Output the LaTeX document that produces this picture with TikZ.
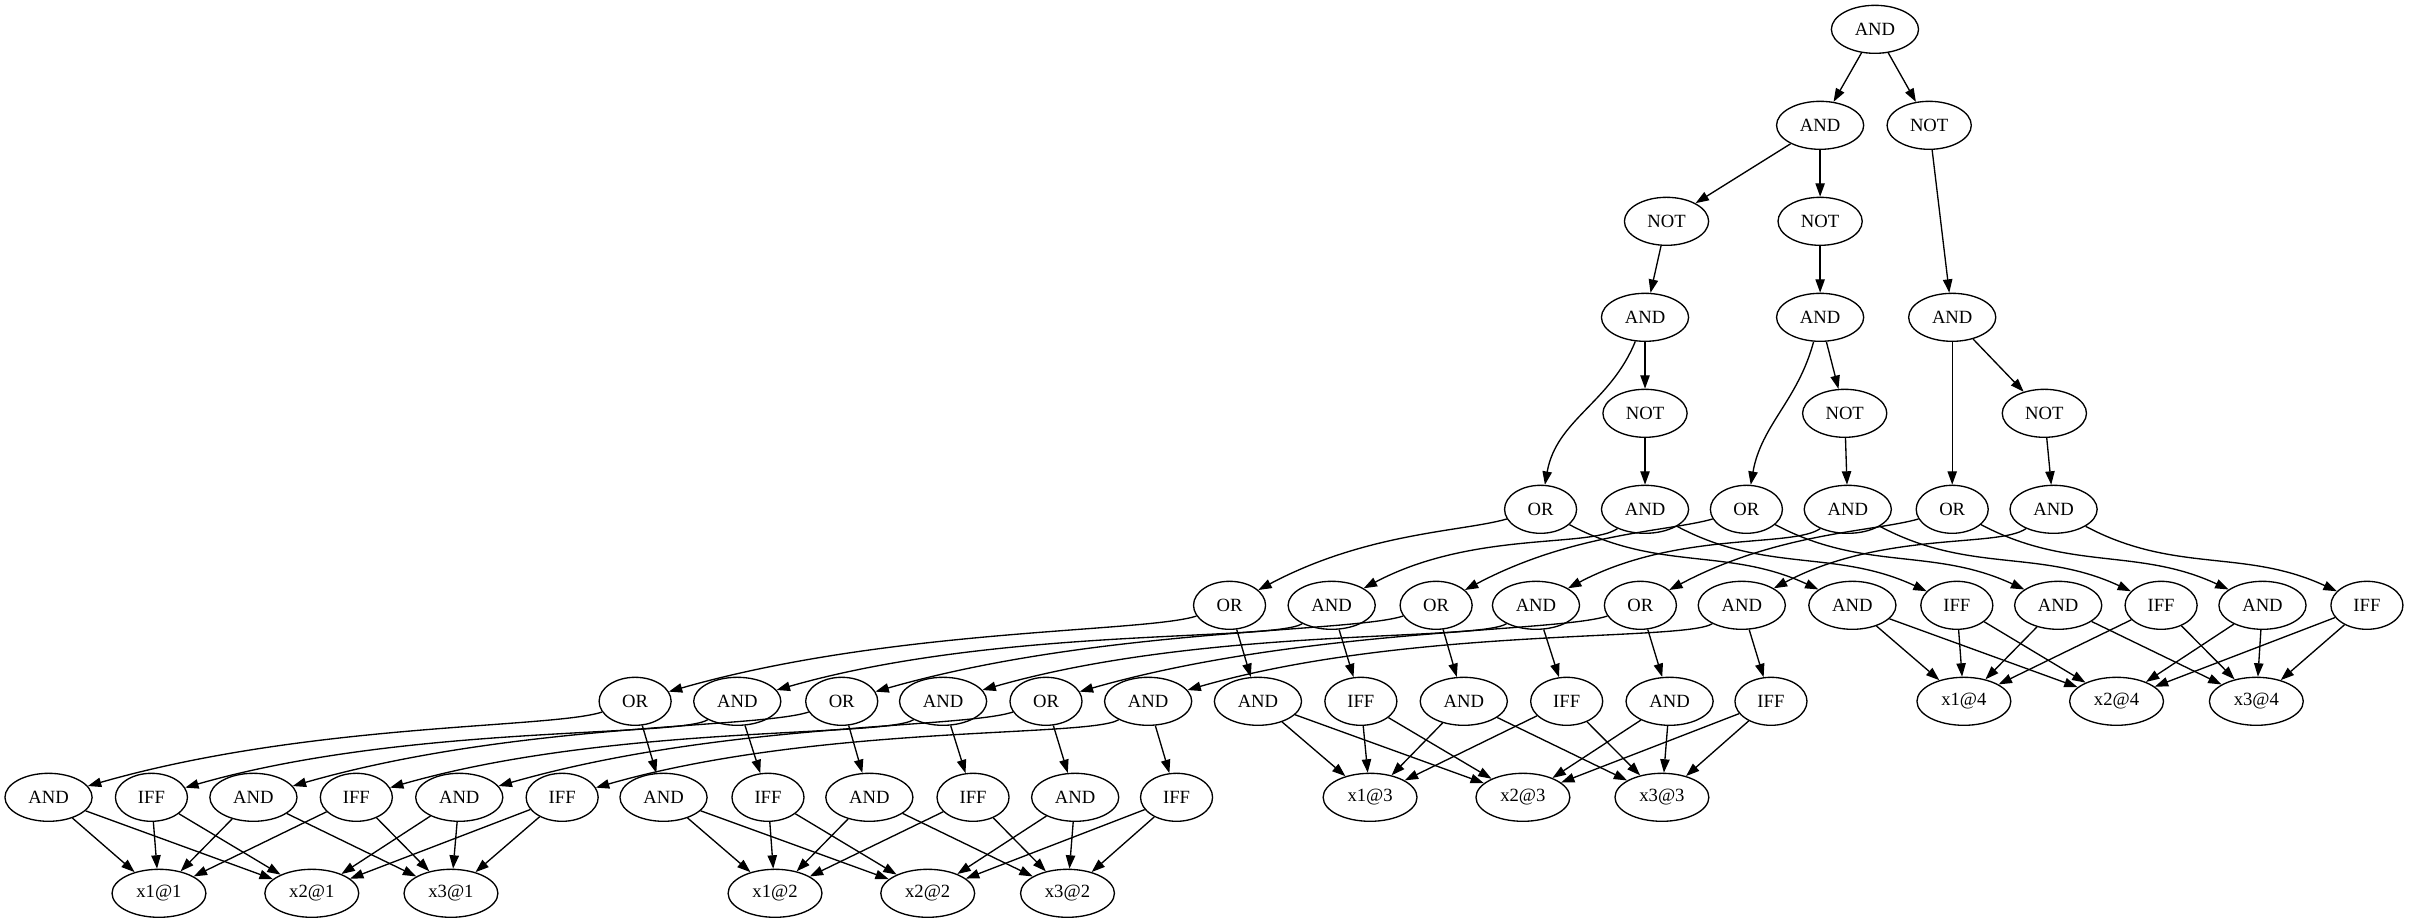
\documentclass[tikz,border=0pt]{standalone}
\usepackage{fontspec}
\setmainfont{Liberation Serif}
\usetikzlibrary{shapes.geometric,arrows.meta}
\begin{document}
\begin{tikzpicture}[x=1pt,y=1pt,
  gnode/.style={ellipse,draw,line width=0.87pt,font=\fontsize{12.15}{14}\selectfont,
    inner xsep=6.9pt,inner ysep=3.5pt,minimum width=46.9pt,minimum height=31.25pt},
  edge/.style={line width=0.87pt,-{Triangle[length=8.7pt,width=6.1pt]}},
  lcAo/.style={out=196,in=28,out distance=30pt,in distance=80pt},
  lcAa/.style={out=215,in=28,out distance=22pt,in distance=80pt},
  lcBo/.style={out=198,in=16,out distance=35pt,in distance=150pt},
  lcBa/.style={out=212,in=16,out distance=22pt,in distance=150pt},
  rcA/.style={out=-28,in=155}]
\useasboundingbox (0,0) rectangle (1568.4,601);
% rank 0-4
\node[gnode] (top) at (1220.7,581.9) {AND};
\node[gnode] (a1) at (1185,519.4) {AND};
\node[gnode] (n1) at (1256,519.4) {NOT};
\node[gnode] (nb) at (1085,456.9) {NOT};
\node[gnode] (nc) at (1185,456.9) {NOT};
\node[gnode] (ab) at (1071,394.4) {AND};
\node[gnode] (ac) at (1185,394.4) {AND};
\node[gnode] (ad) at (1271,394.4) {AND};
\node[gnode] (nd) at (1071,331.9) {NOT};
\node[gnode] (ne) at (1201,331.9) {NOT};
\node[gnode] (nf) at (1331,331.9) {NOT};
% rank 5
\node[gnode] (o5a) at (1003,269.4) {OR};
\node[gnode] (a5b) at (1071,269.4) {AND};
\node[gnode] (o5c) at (1137,269.4) {OR};
\node[gnode] (a5d) at (1203,269.4) {AND};
\node[gnode] (o5e) at (1271,269.4) {OR};
\node[gnode] (a5f) at (1337,269.4) {AND};
% rank 6
\node[gnode] (o6a) at (800.5,206.9) {OR};
\node[gnode] (a6b) at (867,206.9) {AND};
\node[gnode] (o6c) at (935,206.9) {OR};
\node[gnode] (a6d) at (1000,206.9) {AND};
\node[gnode] (o6e) at (1068,206.9) {OR};
\node[gnode] (a6f) at (1134,206.9) {AND};
\node[gnode] (sa4) at (1206,206.9) {AND};
\node[gnode] (sb4) at (1274,206.9) {IFF};
\node[gnode] (sc4) at (1340,206.9) {AND};
\node[gnode] (sd4) at (1407,206.9) {IFF};
\node[gnode] (se4) at (1473,206.9) {AND};
\node[gnode] (sf4) at (1541,206.9) {IFF};
% rank 7
\node[gnode] (o7a) at (413.5,144.4) {OR};
\node[gnode] (a7b) at (480,144.4) {AND};
\node[gnode] (o7c) at (548,144.4) {OR};
\node[gnode] (a7d) at (614,144.4) {AND};
\node[gnode] (o7e) at (681,144.4) {OR};
\node[gnode] (a7f) at (747.5,144.4) {AND};
\node[gnode] (sa3) at (819,144.4) {AND};
\node[gnode] (sb3) at (886,144.4) {IFF};
\node[gnode] (sc3) at (953,144.4) {AND};
\node[gnode] (sd3) at (1020,144.4) {IFF};
\node[gnode] (se3) at (1087,144.4) {AND};
\node[gnode] (sf3) at (1153,144.4) {IFF};
\node[gnode] (xa4) at (1278.6,144.4) {x1@4};
\node[gnode] (xb4) at (1378,144.4) {x2@4};
\node[gnode] (xc4) at (1469,144.4) {x3@4};
% rank 8
\node[gnode] (sa1) at (31.6,81.9) {AND};
\node[gnode] (sb1) at (98.6,81.9) {IFF};
\node[gnode] (sc1) at (165,81.9) {AND};
\node[gnode] (sd1) at (232,81.9) {IFF};
\node[gnode] (se1) at (299,81.9) {AND};
\node[gnode] (sf1) at (366,81.9) {IFF};
\node[gnode] (sa2) at (432,81.9) {AND};
\node[gnode] (sb2) at (500,81.9) {IFF};
\node[gnode] (sc2) at (566,81.9) {AND};
\node[gnode] (sd2) at (633.5,81.9) {IFF};
\node[gnode] (se2) at (700,81.9) {AND};
\node[gnode] (sf2) at (766,81.9) {IFF};
\node[gnode] (xa3) at (892,81.9) {x1@3};
\node[gnode] (xb3) at (991.5,81.9) {x2@3};
\node[gnode] (xc3) at (1082,81.9) {x3@3};
% rank 9
\node[gnode] (xa1) at (103.5,19.4) {x1@1};
\node[gnode] (xb1) at (203,19.4) {x2@1};
\node[gnode] (xc1) at (293.6,19.4) {x3@1};
\node[gnode] (xa2) at (504.6,19.4) {x1@2};
\node[gnode] (xb2) at (604,19.4) {x2@2};
\node[gnode] (xc2) at (695,19.4) {x3@2};
% top edges
\draw[edge] (top) -- (a1);
\draw[edge] (top) -- (n1);
\draw[edge] (a1) -- (nb);
\draw[edge] (a1) -- (nc);
\draw[edge] (nb) -- (ab);
\draw[edge] (nc) -- (ac);
\draw[edge] (n1) -- (ad);
\draw[edge] (ab) to[out=-112,in=80] (o5a);
\draw[edge] (ab) -- (nd);
\draw[edge] (ac) to[out=-105,in=80] (o5c);
\draw[edge] (ac) -- (ne);
\draw[edge] (ad) -- (o5e);
\draw[edge] (ad) -- (nf);
\draw[edge] (nd) -- (a5b);
\draw[edge] (ne) -- (a5d);
\draw[edge] (nf) -- (a5f);
% rank 5 -> 6
\draw[edge] (o5a) to[lcAo] (o6a);
\draw[edge] (a5b) to[lcAa] (a6b);
\draw[edge] (o5c) to[lcAo] (o6c);
\draw[edge] (a5d) to[lcAa] (a6d);
\draw[edge] (o5e) to[lcAo] (o6e);
\draw[edge] (a5f) to[lcAa] (a6f);
\draw[edge] (o5a) to[rcA] (sa4);
\draw[edge] (a5b) to[rcA] (sb4);
\draw[edge] (o5c) to[rcA] (sc4);
\draw[edge] (a5d) to[rcA] (sd4);
\draw[edge] (o5e) to[rcA] (se4);
\draw[edge] (a5f) to[rcA] (sf4);
% rank 6 -> 7
\draw[edge] (o6a) to[lcBo] (o7a);
\draw[edge] (a6b) to[lcBa] (a7b);
\draw[edge] (o6c) to[lcBo] (o7c);
\draw[edge] (a6d) to[lcBa] (a7d);
\draw[edge] (o6e) to[lcBo] (o7e);
\draw[edge] (a6f) to[lcBa] (a7f);
\draw[edge] (o6a) -- (sa3);
\draw[edge] (a6b) -- (sb3);
\draw[edge] (o6c) -- (sc3);
\draw[edge] (a6d) -- (sd3);
\draw[edge] (o6e) -- (se3);
\draw[edge] (a6f) -- (sf3);
% rank 7 -> 8
\draw[edge] (o7a) to[lcBo] (sa1);
\draw[edge] (a7b) to[lcBa] (sb1);
\draw[edge] (o7c) to[lcBo] (sc1);
\draw[edge] (a7d) to[lcBa] (sd1);
\draw[edge] (o7e) to[lcBo] (se1);
\draw[edge] (a7f) to[lcBa] (sf1);
\draw[edge] (o7a) -- (sa2);
\draw[edge] (a7b) -- (sb2);
\draw[edge] (o7c) -- (sc2);
\draw[edge] (a7d) -- (sd2);
\draw[edge] (o7e) -- (se2);
\draw[edge] (a7f) -- (sf2);
% leaf edges
\foreach \k in {1,2,3,4}{
  \draw[edge] (sa\k) -- (xa\k); \draw[edge] (sa\k) -- (xb\k);
  \draw[edge] (sb\k) -- (xa\k); \draw[edge] (sb\k) -- (xb\k);
  \draw[edge] (sc\k) -- (xa\k); \draw[edge] (sc\k) -- (xc\k);
  \draw[edge] (sd\k) -- (xa\k); \draw[edge] (sd\k) -- (xc\k);
  \draw[edge] (se\k) -- (xb\k); \draw[edge] (se\k) -- (xc\k);
  \draw[edge] (sf\k) -- (xb\k); \draw[edge] (sf\k) -- (xc\k);
}
\end{tikzpicture}
\end{document}
